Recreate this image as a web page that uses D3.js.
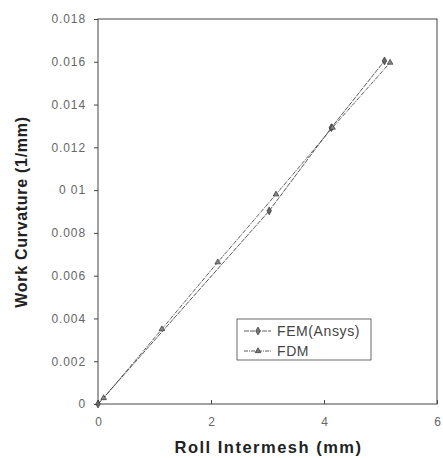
<!DOCTYPE html>
<html>
<head>
<meta charset="utf-8">
<script src="https://cdn.jsdelivr.net/npm/d3@7"></script>
<style>
body { margin: 0; background: #fff; }
svg { display: block; font-family: "Liberation Sans", Arial, sans-serif; }
</style>
</head>
<body>
<svg id="chart" width="443" height="458"></svg>
<script>
// values
var femX = [0, 3.03, 4.13, 5.07];
var femY = [0, 0.00903, 0.01292, 0.01604];
var fdmX = [0.1, 1.13, 2.12, 3.15, 4.15, 5.17];
var fdmY = [0.00028, 0.0035, 0.00663, 0.0098, 0.01292, 0.01596];
var xTicks = [0, 2, 4, 6];
var yTicks = [0, 0.002, 0.004, 0.006, 0.008, 0.01, 0.012, 0.014, 0.016, 0.018];
var yLabels = ["0", "0.002", "0.004", "0.006", "0.008", "0 01", "0.012", "0.014", "0.016", "0.018"];
var seriesNames = ["FEM(Ansys)", "FDM"];

var svg = d3.select('#chart');
var plotL = 98, plotR = 437, plotT = 19, plotB = 404;

var x = d3.scaleLinear().domain([0, 6]).range([plotL, plotR]);
var y = d3.scaleLinear().domain([0, 0.018]).range([plotB, plotT]);

var ink = '#333';

// frame
svg.append('rect')
	.attr('x', plotL).attr('y', plotT)
	.attr('width', plotR - plotL).attr('height', plotB - plotT)
	.attr('fill', 'none').attr('stroke', '#444').attr('stroke-width', 1);

// y axis
var yAxis = d3.axisLeft(y).tickValues(yTicks).tickSize(4).tickPadding(8)
	.tickFormat(function(d, i) { return yLabels[i]; });
var gy = svg.append('g').attr('transform', 'translate(' + plotL + ',0)').call(yAxis);
gy.select('.domain').remove();
gy.selectAll('line').attr('stroke', '#444');
gy.selectAll('text').attr('fill', '#666').style('font-size', '12px').style('letter-spacing', '0.9px');

// x axis, ticks inside
var xAxis = d3.axisBottom(x).tickValues(xTicks).tickSize(-4).tickPadding(13)
	.tickFormat(d3.format('d'));
var gx = svg.append('g').attr('transform', 'translate(0,' + plotB + ')').call(xAxis);
gx.select('.domain').remove();
gx.selectAll('line').attr('stroke', '#444');
gx.selectAll('text').attr('fill', '#666').style('font-size', '12px');

// titles
svg.append('text')
	.attr('x', (plotL + plotR) / 2 + 1).attr('y', 453)
	.attr('text-anchor', 'middle')
	.style('font-size', '16.5px').style('font-weight', 'bold').style('letter-spacing', '1.5px')
	.attr('fill', '#222')
	.text('Roll Intermesh (mm)');

svg.append('text')
	.attr('transform', 'translate(27,' + 212 + ') rotate(-90)')
	.attr('text-anchor', 'middle')
	.style('font-size', '16px').style('font-weight', 'bold').style('letter-spacing', '0.7px')
	.attr('fill', '#222')
	.text('Work Curvature (1/mm)');

var line = d3.line()
	.x(function(d) { return x(d[0]); })
	.y(function(d) { return y(d[1]); });

var fem = femX.map(function(v, i) { return [v, femY[i]]; });
var fdm = fdmX.map(function(v, i) { return [v, fdmY[i]]; });

svg.append('path').datum(fem)
	.attr('d', line).attr('fill', 'none').attr('stroke', ink)
	.attr('stroke-width', 0.8).attr('stroke-dasharray', '5,1');
svg.append('path').datum([[0, 0]].concat(fdm))
	.attr('d', line).attr('fill', 'none').attr('stroke', ink)
	.attr('stroke-width', 0.8).attr('stroke-dasharray', '4,1,1,1');

var diamond = d3.symbol().type(d3.symbolDiamond).size(18);
var tri = d3.symbol().type(d3.symbolTriangle).size(14);

svg.append('g').selectAll('path').data(fem).enter().append('path')
	.attr('d', diamond)
	.attr('transform', function(d) { return 'translate(' + x(d[0]) + ',' + y(d[1]) + ')'; })
	.attr('fill', '#666').attr('stroke', '#222').attr('stroke-width', 0.6);

svg.append('g').selectAll('path').data(fdm).enter().append('path')
	.attr('d', tri)
	.attr('transform', function(d) { return 'translate(' + x(d[0]) + ',' + y(d[1]) + ')'; })
	.attr('fill', '#888').attr('stroke', '#222').attr('stroke-width', 0.6);

// legend
var lg = svg.append('g').attr('transform', 'translate(237,319)');
lg.append('rect').attr('width', 134).attr('height', 41)
	.attr('fill', '#fff').attr('stroke', '#444').attr('stroke-width', 0.8);
var syms = [diamond, tri];
var dashes = ['5,1', '4,1,1,1'];
seriesNames.forEach(function(name, i) {
	var yy = 12 + i * 20;
	lg.append('line').attr('x1', 7).attr('x2', 34).attr('y1', yy).attr('y2', yy)
		.attr('stroke', ink).attr('stroke-width', 0.8).attr('stroke-dasharray', dashes[i]);
	lg.append('path').attr('d', syms[i]).attr('transform', 'translate(21,' + yy + ')')
		.attr('fill', '#777').attr('stroke', '#222').attr('stroke-width', 0.6);
	lg.append('text').attr('x', 40).attr('y', yy + 5)
		.style('font-size', '14px').style('letter-spacing', '0.6px')
		.attr('fill', '#444').text(name);
});
</script>
</body>
</html>
